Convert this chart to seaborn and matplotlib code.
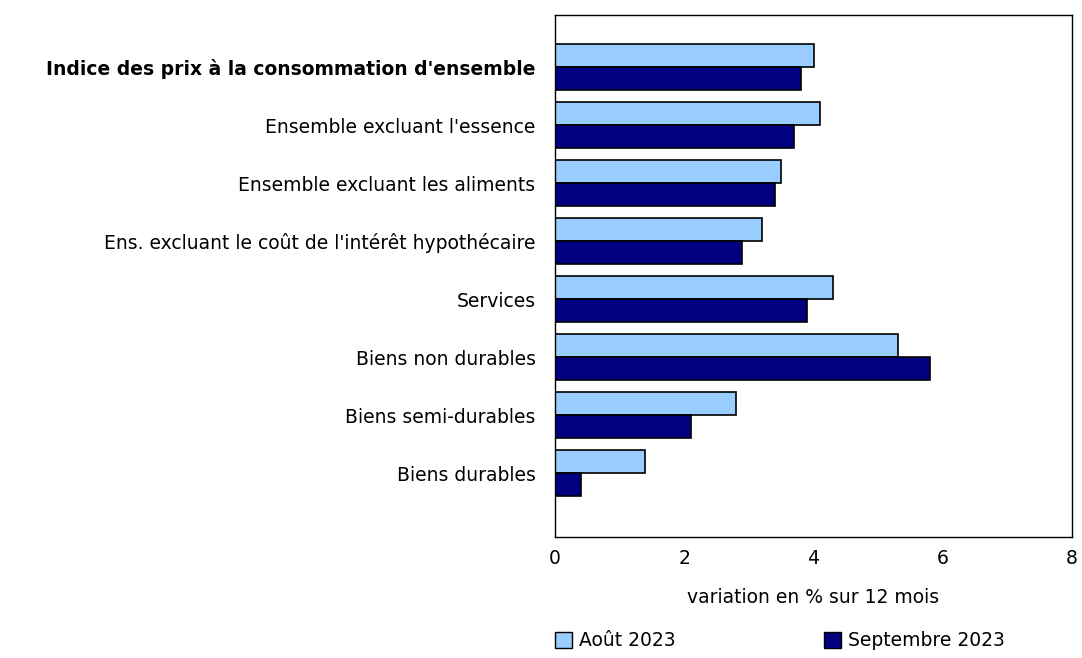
import matplotlib
matplotlib.use("Agg")
import matplotlib.pyplot as plt
import pandas as pd
import seaborn as sns

categories = [
    "Indice des prix à la consommation d'ensemble",
    "Ensemble excluant l'essence",
    "Ensemble excluant les aliments",
    "Ens. excluant le coût de l'intérêt hypothécaire",
    "Services",
    "Biens non durables",
    "Biens semi-durables",
    "Biens durables",
]
aout_2023 = [4.0, 4.1, 3.5, 3.2, 4.3, 5.3, 2.8, 1.4]
sept_2023 = [3.8, 3.7, 3.4, 2.9, 3.9, 5.8, 2.1, 0.4]
series = ["Août 2023", "Septembre 2023"]
colors = ["#99CCFF", "#000080"]

df = pd.DataFrame({
    "categorie": categories * 2,
    "valeur": aout_2023 + sept_2023,
    "serie": [series[0]] * len(categories) + [series[1]] * len(categories),
})

sns.set_style("white")
plt.rcParams["font.family"] = ["DejaVu Sans"]
plt.rcParams["text.color"] = "black"
plt.rcParams["axes.labelcolor"] = "black"
plt.rcParams["xtick.color"] = "black"
plt.rcParams["ytick.color"] = "black"

fs = 13.5
fig = plt.figure(figsize=(10.82, 6.58), dpi=100)
ax = fig.add_axes([555 / 1082, 1 - 537 / 658, (1072 - 555) / 1082, (537 - 15) / 658])

sns.barplot(data=df, x="valeur", y="categorie", hue="serie", palette=colors,
            saturation=1, orient="h", width=0.8, edgecolor="black", linewidth=1.2,
            ax=ax, legend=False)

ax.set_xlim(0, 8)
ax.set_ylim(8.1, -0.9)
ax.set_xticks([0, 2, 4, 6, 8])
ax.set_xlabel("variation en % sur 12 mois", fontsize=fs, labelpad=14)
ax.set_ylabel("")
ax.tick_params(axis="x", direction="in", length=6, width=1, labelsize=fs, pad=9)
ax.tick_params(axis="y", length=0, labelsize=fs, pad=14)
for s in ax.spines.values():
    s.set_color("black")
    s.set_linewidth(1)
ax.get_yticklabels()[0].set_fontweight("bold")

handles = [plt.Rectangle((0, 0), 1, 1, facecolor=c, edgecolor="black", linewidth=1) for c in colors]
fig.legend(handles, series, loc="center left", bbox_to_anchor=(547 / 1082, 1 - 641 / 658),
           ncol=2, frameon=False, fontsize=fs, handlelength=0.95, handleheight=0.95,
           handletextpad=0.35, columnspacing=7.9, borderaxespad=0)

fig.savefig("out.png", dpi=100)
